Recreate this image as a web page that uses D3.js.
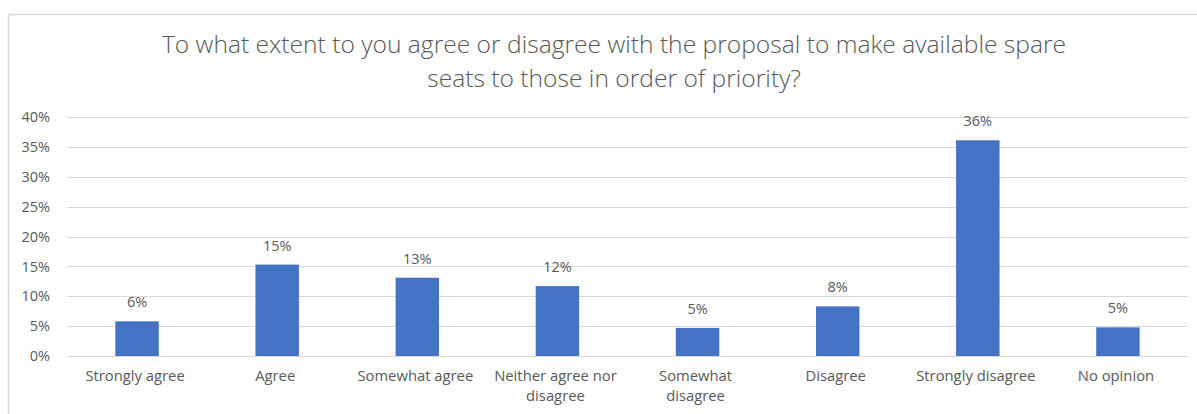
<!DOCTYPE html>
<html>
<head>
<meta charset="utf-8">
<script src="https://cdn.jsdelivr.net/npm/d3@7"></script>
<style>
  body { margin: 0; background: #fff; }
  text { font-family: "Open Sans", "Noto Sans", sans-serif; fill: #595959; }
</style>
</head>
<body>
<div id="chart"></div>
<script>
// Data
var categories = ["Strongly agree", "Agree", "Somewhat agree", "Neither agree nor disagree",
                  "Somewhat disagree", "Disagree", "Strongly disagree", "No opinion"];
var values = [5.8, 15.3, 13.1, 11.7, 4.7, 8.3, 36.1, 4.8];
var valueLabels = ["6%", "15%", "13%", "12%", "5%", "8%", "36%", "5%"];
var yTicks = [0, 5, 10, 15, 20, 25, 30, 35, 40];
var titleLines = ["To what extent to you agree or disagree with the proposal to make available spare",
                  "seats to those in order of priority?"];

const width = 1197;
const height = 414;
var margin = {top: 117, right: 9, bottom: 58, left: 67};
var plotWidth = width - margin.left - margin.right;
var plotHeight = height - margin.top - margin.bottom;

var svg = d3.select("#chart")
            .append("svg")
                .attr("width", width)
                .attr("height", height);

// Chart border (top and left visible)
svg.append("path")
    .attr("d", "M8.5,414 V14.5 H1197")
    .attr("fill", "none")
    .attr("stroke", "#d9d9d9")
    .attr("stroke-width", 1.5);

// Title
svg.append("g")
    .selectAll("text")
    .data(titleLines)
    .enter()
    .append("text")
        .attr("x", 614)
        .attr("y", function(d, i) { return 53 + i * 34; })
        .attr("text-anchor", "middle")
        .style("font-size", "24.6px")
        .style("font-weight", 300)
        .text(function(d) { return d; });

var g = svg.append("g")
            .attr("transform", "translate(" + margin.left + "," + margin.top + ")");

var scaleX = d3.scaleBand()
                .domain(categories)
                .range([0, plotWidth])
                .paddingInner(0.69)
                .paddingOuter(0.345);

var scaleY = d3.scaleLinear()
                .domain([0, 40])
                .range([plotHeight, 0]);

// Gridlines
g.append("g")
    .selectAll("line")
    .data(yTicks)
    .enter()
    .append("line")
        .attr("x1", 0)
        .attr("x2", plotWidth)
        .attr("y1", function(d) { return Math.round(scaleY(d)) + 0.5; })
        .attr("y2", function(d) { return Math.round(scaleY(d)) + 0.5; })
        .attr("stroke", "#d9d9d9")
        .attr("stroke-width", 1);

// Y axis
var axisY = g.append("g")
    .call(d3.axisLeft(scaleY).tickValues(yTicks).tickSize(0).tickPadding(17)
            .tickFormat(function(d) { return d + "%"; }));
axisY.select(".domain").remove();
axisY.selectAll("text").style("font-size", "14.5px").attr("fill", "#595959");

// Bars
g.selectAll("rect.bar")
    .data(values)
    .enter()
    .append("rect")
        .attr("class", "bar")
        .attr("x", function(d, i) { return scaleX(categories[i]); })
        .attr("y", function(d) { return scaleY(d); })
        .attr("width", scaleX.bandwidth())
        .attr("height", function(d) { return plotHeight - scaleY(d); })
        .attr("fill", "#4472c4");

// Value labels
g.selectAll("text.value")
    .data(values)
    .enter()
    .append("text")
        .attr("class", "value")
        .attr("x", function(d, i) { return scaleX(categories[i]) + scaleX.bandwidth() / 2; })
        .attr("y", function(d) { return scaleY(d) - 14; })
        .attr("text-anchor", "middle")
        .style("font-size", "14.5px")
        .text(function(d, i) { return valueLabels[i]; });

// X axis labels, wrapped like the original
var wrapped = {
    "Neither agree nor disagree": ["Neither agree nor", "disagree"],
    "Somewhat disagree": ["Somewhat", "disagree"]
};

var axisX = g.append("g")
    .attr("transform", "translate(0," + plotHeight + ")");

axisX.selectAll("text")
    .data(categories)
    .enter()
    .append("text")
        .attr("x", function(d) { return scaleX(d) + scaleX.bandwidth() / 2 - 2; })
        .attr("y", 25)
        .attr("text-anchor", "middle")
        .style("font-size", "14.8px")
        .each(function(d) {
            var lines = wrapped[d] || [d];
            var t = d3.select(this);
            lines.forEach(function(line, i) {
                t.append("tspan")
                    .attr("x", t.attr("x"))
                    .attr("dy", i === 0 ? 0 : 20)
                    .text(line);
            });
        });
</script>
</body>
</html>
